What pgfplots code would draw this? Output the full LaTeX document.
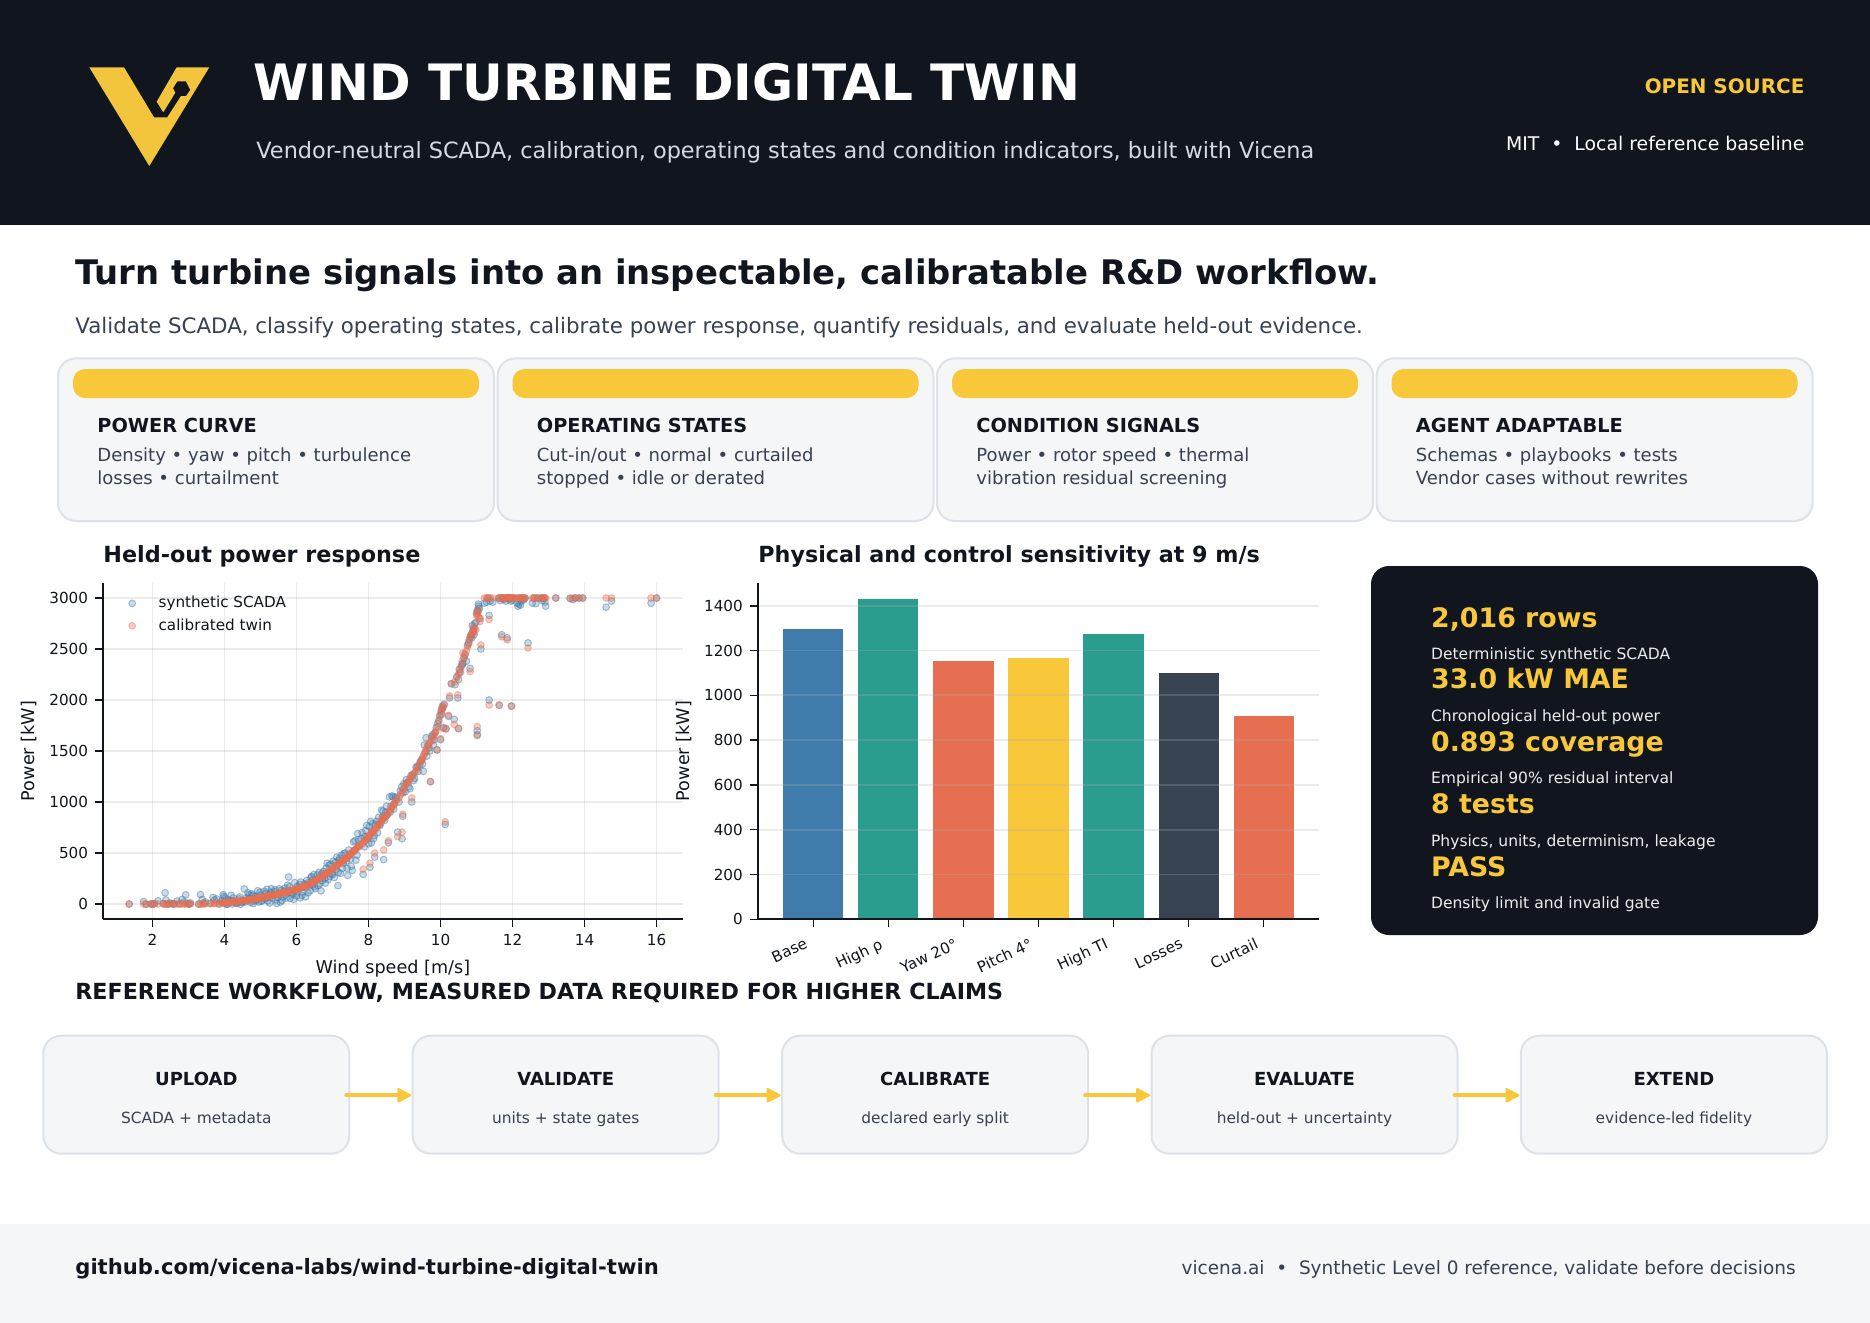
\documentclass[border=0pt]{standalone}
\usepackage{fontspec}
\usepackage{pgfplots}
\usepackage{pgfplotstable}
\pgfplotsset{compat=1.18}
\setmainfont{DejaVu Sans}
\definecolor{ink}{HTML}{11161E}
\definecolor{slate}{HTML}{374151}
\definecolor{card}{HTML}{F4F6F8}
\definecolor{edge}{HTML}{DDE2E9}
\definecolor{gold}{HTML}{F9C73A}
\definecolor{logo}{HTML}{F2C53D}
\definecolor{blue}{HTML}{3F7CAC}
\definecolor{teal}{HTML}{2A9D8F}
\definecolor{coral}{HTML}{E76F51}
\definecolor{barslate}{HTML}{394452}
\definecolor{gridc}{HTML}{B0B0B0}
\definecolor{subt}{HTML}{D5DAE1}
\newcommand\F[1]{\fontsize{#1}{#1}\selectfont}
\pgfplotstableread[row sep=\\]{
v s t\\
1.35 0 0\\ 1.75 25 0\\ 1.82 -3 0\\ 1.95 2 0\\ 2.0 -2 0\\ 2.05 5 0\\ 2.15 32 0\\ 2.3 5 0\\ 2.35 110 0\\ 2.37 40 0\\ 2.42 -3 0\\ 2.48 10 0\\
2.55 6 0\\ 2.6 0 0\\ 2.68 30 0\\ 2.75 2 0\\ 2.82 45 0\\ 2.88 20 0\\ 2.92 90 0\\ 2.98 5 0\\ 3.02 0 0\\ 3.05 12 0\\ 3.28 -2 0\\ 3.33 92 0\\
3.38 45 0\\ 3.42 8 1\\ 3.47 20 2\\ 3.6 5 4\\ 3.68 65 6\\ 3.72 40 6\\ 3.78 50 8\\ 3.85 -3 9\\ 3.92 30 11\\ 3.96 92 12\\ 3.98 75 13\\ 4.0 60 13\\
4.03 10 14\\ 4.05 -5 15\\ 4.1 45 16\\ 4.12 20 17\\ 4.18 85 19\\ 4.22 0 20\\ 4.27 30 22\\ 4.3 15 23\\ 4.35 5 25\\ 4.4 50 27\\ 4.45 -3 30\\ 4.5 25 32\\
4.55 148 34\\ 4.6 60 37\\ 4.62 35 38\\ 4.68 90 41\\ 4.72 15 43\\ 4.75 100 45\\ 4.8 5 48\\ 4.85 75 52\\ 4.88 40 54\\ 4.92 130 57\\ 4.95 20 59\\ 5.0 90 62\\
5.05 35 65\\ 5.1 125 69\\ 5.12 50 70\\ 5.18 145 75\\ 5.22 70 78\\ 5.25 10 80\\ 5.3 150 84\\ 5.35 85 88\\ 5.38 120 90\\ 5.42 40 93\\ 5.45 5 95\\ 5.5 100 100\\
5.55 20 104\\ 5.58 135 107\\ 5.62 70 110\\ 5.68 155 115\\ 5.7 90 117\\ 5.75 185 121\\ 5.78 265 124\\ 5.82 55 127\\ 5.85 130 130\\ 5.88 110 133\\ 5.92 45 137\\ 5.95 210 140\\
6.0 80 145\\ 6.02 175 147\\ 6.05 150 150\\ 6.1 60 157\\ 6.12 215 160\\ 6.18 120 168\\ 6.22 195 174\\ 6.25 70 178\\ 6.28 230 182\\ 6.32 110 188\\ 6.35 175 192\\ 6.4 260 205\\
6.42 270 208\\ 6.45 190 214\\ 6.48 290 220\\ 6.52 150 230\\ 6.55 240 235\\ 6.6 180 247\\ 6.62 310 250\\ 6.68 130 265\\ 6.72 230 274\\ 6.75 320 280\\ 6.8 205 292\\ 6.85 400 305\\
6.9 380 318\\ 6.92 270 322\\ 6.98 300 340\\ 7.02 420 352\\ 7.05 260 360\\ 7.1 340 375\\ 7.12 460 380\\ 7.15 180 388\\ 7.18 430 396\\ 7.22 300 407\\ 7.25 480 415\\ 7.28 350 420\\
7.32 495 432\\ 7.38 420 450\\ 7.42 280 462\\ 7.48 480 482\\ 7.52 370 497\\ 7.55 330 507\\ 7.6 520 525\\ 7.62 620 530\\ 7.68 480 552\\ 7.72 630 565\\ 7.85 290 340\\ 7.82 700 592\\
7.88 560 615\\ 7.92 720 628\\ 7.98 640 655\\ 8.02 760 672\\ 8.04 360 400\\ 8.08 600 695\\ 8.12 790 710\\ 8.16 670 725\\ 8.17 460 500\\ 8.22 810 748\\ 8.25 700 762\\ 8.3 780 788\\
8.36 920 805\\ 8.38 850 830\\ 8.42 436 530\\ 8.42 840 845\\ 8.48 900 860\\ 8.52 870 875\\ 8.55 600 620\\ 8.58 1050 905\\ 8.62 960 930\\ 8.65 1060 945\\ 8.7 930 975\\ 8.75 1050 1005\\
8.81 705 660\\ 8.85 1000 1040\\ 8.93 640 705\\ 8.92 1150 1090\\ 8.95 860 880\\ 8.98 1180 1130\\ 9.02 1100 1165\\ 9.08 1190 1190\\ 9.15 1130 1225\\ 9.2 1000 1040\\ 9.22 1270 1255\\ 9.28 1230 1285\\
9.32 1340 1310\\ 9.38 1300 1345\\ 9.42 1360 1385\\ 9.48 1420 1410\\ 9.52 1300 1450\\ 9.55 1560 1470\\ 9.6 1630 1510\\ 9.62 1450 1530\\ 9.68 1530 1570\\ 9.72 1200 1200\\ 9.75 1640 1600\\ 9.8 1560 1640\\
9.85 1680 1680\\ 9.9 1510 1510\\ 9.92 1770 1740\\ 9.98 1850 1840\\ 10.0 1610 1620\\ 10.02 1900 1880\\ 10.05 1940 1920\\ 10.08 1730 1720\\ 10.13 780 805\\ 10.15 1720 1715\\ 10.1 1960 1950\\ 10.25 2020 2040\\
10.22 1840 1850\\ 10.38 1810 1760\\ 10.3 2160 2160\\ 10.4 2150 2180\\ 10.5 2200 2250\\ 10.48 2020 2050\\ 10.5 1720 1720\\ 10.55 2270 2300\\ 10.6 2350 2380\\ 10.62 2360 2460\\ 10.68 2450 2440\\ 10.72 2380 2480\\
10.75 2540 2520\\ 10.82 2310 2280\\ 10.85 2640 2640\\ 10.88 2730 2660\\ 10.92 2700 2720\\ 10.95 2750 2700\\ 10.98 2760 2690\\ 11.02 2880 2860\\ 11.05 2940 2820\\ 11.08 2900 2800\\ 11.12 2500 2540\\ 11.02 1700 1740\\
11.02 1660 1650\\ 11.1 2800 2770\\ 11.35 2830 2790\\ 11.35 2000 1950\\ 11.63 1950 1950\\ 11.97 1940 1940\\ 11.7 2640 2620\\ 11.85 2610 2590\\ 12.43 2560 2510\\
11.22 2950 3000\\ 11.28 2960 3000\\ 11.32 3000 3000\\ 11.38 2970 3000\\ 11.45 2960 3000\\ 11.62 3000 3000\\ 11.65 2975 3000\\ 11.7 3000 3000\\ 11.72 3000 3000\\ 11.75 2985 3000\\ 11.8 3000 3000\\ 11.82 2970 3000\\
11.85 3000 3000\\ 11.88 3000 3000\\ 11.9 2990 3000\\ 11.92 3000 3000\\ 11.95 2970 3000\\ 11.98 3000 3000\\ 12.0 2980 3000\\ 12.05 3000 3000\\ 12.12 2950 3000\\ 12.15 2920 3000\\ 12.18 2940 3000\\ 12.2 2990 3000\\
12.22 2930 3000\\ 12.25 2970 3000\\ 12.28 3000 3000\\ 12.32 2985 3000\\ 12.35 3000 3000\\ 12.55 2950 3000\\ 12.6 3000 3000\\ 12.65 2945 3000\\ 12.7 3000 3000\\ 12.8 3000 3000\\ 12.83 2975 3000\\ 12.87 3000 3000\\
12.9 2960 3000\\ 12.92 2920 3000\\ 13.2 3000 3000\\ 13.6 2995 3000\\ 13.68 2985 3000\\ 13.75 3000 3000\\ 13.85 3000 3000\\ 13.95 3000 3000\\ 14.6 2910 3000\\ 14.75 2970 3000\\ 15.85 2950 3000\\ 16.0 3000 3000\\
4.08 -2 16\\ 4.15 35 18\\ 4.25 60 21\\ 4.33 10 24\\ 4.42 70 28\\ 4.48 15 31\\ 4.58 20 36\\ 4.65 110 39\\ 4.7 55 42\\ 4.78 85 47\\ 4.83 30 50\\ 4.9 60 56\\
4.98 115 61\\ 5.02 25 63\\ 5.08 70 67\\ 5.15 105 73\\ 5.2 30 76\\ 5.28 115 82\\ 5.32 60 86\\ 5.4 140 92\\ 5.48 65 98\\ 5.52 150 101\\ 5.6 35 108\\ 5.65 125 112\\
5.72 60 119\\ 5.8 170 125\\ 5.9 95 135\\ 5.98 120 143\\ 6.08 190 155\\ 6.15 85 164\\ 6.2 165 171\\ 6.3 205 185\\ 6.38 130 200\\ 6.44 235 211\\ 6.5 170 225\\ 6.58 285 241\\
6.65 200 257\\ 6.7 300 270\\ 6.78 250 288\\ 6.82 350 297\\ 6.88 240 312\\ 6.95 390 330\\ 7.0 290 345\\ 7.08 410 368\\ 7.16 310 391\\ 7.2 450 402\\ 7.3 400 425\\ 7.35 500 440\\
7.4 350 456\\ 7.45 530 472\\ 7.5 440 490\\ 7.58 610 518\\ 7.65 430 540\\ 7.7 690 558\\ 7.75 570 575\\ 7.8 640 585\\ 7.9 660 620\\ 7.95 770 640\\ 8.0 590 665\\ 8.06 810 685\\
8.1 720 702\\ 8.14 640 718\\ 8.2 780 740\\ 8.28 850 780\\ 8.32 770 798\\ 8.4 910 838\\ 8.45 820 852\\ 8.5 960 870\\ 8.6 900 920\\ 8.68 1050 965\\ 8.72 980 990\\ 8.78 1040 1020\\
8.88 1110 1070\\ 8.96 1090 1120\\ 9.05 1220 1180\\ 9.12 1150 1210\\ 9.18 1260 1240\\ 9.25 1210 1270\\ 9.35 1350 1330\\ 9.45 1400 1400\\ 9.5 1370 1430\\ 9.58 1490 1490\\ 9.65 1560 1550\\ 9.7 1500 1585\\
9.78 1660 1620\\ 9.82 1610 1660\\ 9.88 1730 1700\\ 9.95 1800 1790\\ 10.03 1860 1900\\ 10.06 1920 1930\\ 10.45 2230 2220\\ 10.52 2300 2270\\ 10.58 2330 2340\\ 10.65 2410 2420\\ 10.78 2560 2550\\ 10.8 2590 2590\\
10.83 2620 2620\\ 10.87 2610 2650\\ 10.9 2680 2670\\ 10.93 2640 2660\\ 11.0 2850 2830\\ 11.03 2870 2850\\ 11.06 2920 2880\\
}\scada
\pgfplotsset{base/.style={
  scale only axis, axis on top, axis x line=bottom, axis y line=left, axis line style={-, color=ink, line width=0.95pt},
  tick style={color=ink, line width=0.75pt}, major tick length=3.9pt, tick align=outside,
  /pgf/number format/assume math mode=true, /pgf/number format/1000 sep={},
  tick label style={font=\F{7.6}, color=ink},
  label style={font=\F{8.8}, color=ink},
  major grid style={color=gridc, opacity=0.25, line width=0.9pt},
},
wl/.style={legend image code/.code={\path (-4pt,0) (11pt,0); \draw[##1] plot coordinates {(0pt,0pt)};}}}
\begin{document}
\begin{tikzpicture}
\begin{scope}[x=0.5pt,y=-0.5pt]
\path[use as bounding box] (0,0) rectangle (1870,1323);
\fill[white] (0,0) rectangle (1870,1323);
\fill[ink] (0,0) rectangle (1870,225);
\fill[card] (0,1223.5) rectangle (1870,1323);
\fill[logo] (89.3,67.3)--(124,67.3)--(154,117.3)--(167.3,117.3)--(181,96)--(186,96)--(190.3,90)--(186,81.3)--(177.3,81.3)--(173,88.3)--(175.3,92.7)--(163.3,112.3)--(156.7,101.7)--(176.7,67.3)--(209.3,67.3)--(149.3,166)--cycle;
\node[anchor=base west,inner sep=0,text=white,font=\F{25.05}\bfseries] at (253,100.8) {WIND TURBINE DIGITAL TWIN};
\node[anchor=base west,inner sep=0,text=subt,font=\F{11.19}] at (256,158.4) {Vendor-neutral SCADA, calibration, operating states and condition indicators, built with Vicena};
\node[anchor=base east,inner sep=0,text=gold,font=\F{9.95}\bfseries] at (1804.8,93) {OPEN SOURCE};
\node[anchor=base east,inner sep=0,text=white,font=\F{9.43}] at (1804.8,150) {MIT\ \ •\ \ Local reference baseline};
\node[anchor=base west,inner sep=0,text=ink,font=\F{16.92}\bfseries] at (75,284.5) {Turn turbine signals into an inspectable, calibratable R\&D workflow.};
\node[anchor=base west,inner sep=0,text=slate,font=\F{10.67}] at (75,333) {Validate SCADA, classify operating states, calibrate power response, quantify residuals, and evaluate held-out evidence.};
% cards
\foreach \x/\h/\a/\b in {58/POWER CURVE/Density • yaw • pitch • turbulence/losses • curtailment,
  497.5/OPERATING STATES/Cut-in\slash out • normal • curtailed/stopped • idle or derated,
  937/CONDITION SIGNALS/Power • rotor speed • thermal/vibration residual screening,
  1376.5/AGENT ADAPTABLE/Schemas • playbooks • tests/Vendor cases without rewrites}{
  \filldraw[fill=card,draw=edge,line width=1pt,rounded corners=9pt] (\x,358.3) rectangle ({\x+436},521);
  \fill[gold,rounded corners=6pt] ({\x+15},369) rectangle ({\x+421},398);
  \node[anchor=base west,inner sep=0,text=ink,font=\F{9.65}\bfseries] at ({\x+39},432.3) {\h};
  \node[anchor=base west,inner sep=0,text=slate,font=\F{9.02}] at ({\x+39},461.5) {\a};
  \node[anchor=base west,inner sep=0,text=slate,font=\F{9.02}] at ({\x+39},484) {\b};
}
\node[anchor=base west,inner sep=0,text=ink,font=\F{11.15}\bfseries] at (103,562.5) {Held-out power response};
\node[anchor=base west,inner sep=0,text=ink,font=\F{11.12}\bfseries] at (758,562.5) {Physical and control sensitivity at 9 m/s};
% panel
\fill[ink,rounded corners=9pt] (1371,566) rectangle (1818,935);
\foreach \y/\t in {627.5/{2,016 rows},688.5/{33.0 kW MAE},751.8/{0.893 coverage},813.8/{8 tests},876.2/{PASS}}
  \node[anchor=base west,inner sep=0,text=gold,font=\F{13.4}\bfseries] at (1430.7,\y) {\t};
\foreach \y/\t in {659.3/{Deterministic synthetic SCADA},721.3/{Chronological held-out power},783.3/{Empirical 90\% residual interval},846.3/{Physics, units, determinism, leakage},908.3/{Density limit and invalid gate}}
  \node[anchor=base west,inner sep=0,text=white!92!ink,font=\F{7.77}] at (1430.7,\y) {\t};
% workflow
\node[anchor=base west,inner sep=0,text=ink,font=\F{11.1}\bfseries] at (75,999) {REFERENCE WORKFLOW, MEASURED DATA REQUIRED FOR HIGHER CLAIMS};
\foreach \x/\h/\a in {43.3/UPLOAD/SCADA + metadata,412.7/VALIDATE/units + state gates,782.1/CALIBRATE/declared early split,1151.5/EVALUATE/held-out + uncertainty,1520.9/EXTEND/evidence-led fidelity}{
  \filldraw[fill=card,draw=edge,line width=1pt,rounded corners=9pt] (\x,1035.7) rectangle ({\x+306},1153.7);
  \node[anchor=base,inner sep=0,text=ink,font=\F{9}\bfseries] at ({\x+153},1085) {\h};
  \node[anchor=base,inner sep=0,text=slate,font=\F{7.7}] at ({\x+153},1123) {\a};
}
\foreach \x in {343.3,712.7,1082.1,1451.5}{
  \draw[gold,line width=2pt,line cap=round] ({\x+3},1095.3) -- ({\x+60},1095.3);
  \filldraw[fill=gold,draw=gold,line width=1pt,line join=round] ({\x+55},1089) -- ({\x+67},1095.3) -- ({\x+55},1101.6) -- cycle;
}
% footer
\node[anchor=base west,inner sep=0,text=ink,font=\F{10.55}\bfseries] at (75,1274) {github.com/vicena-labs/wind-turbine-digital-twin};
\node[anchor=base east,inner sep=0,text=slate,font=\F{9.24}] at (1796,1274) {vicena.ai\ \ •\ \ Synthetic Level 0 reference, validate before decisions};
\end{scope}
\begin{axis}[base, at={(51.45pt,-459.65pt)}, anchor=south west, width=289.95pt, height=168.3pt,
  xmin=0.62, xmax=16.73, ymin=-150, ymax=3150, grid=major,
  xtick={2,4,...,16}, ytick={0,500,...,3000},
  xlabel={Wind speed [m/s]}, ylabel={Power [kW]},
  xlabel style={at={(axis description cs:0.5,-0.16)},anchor=base},
  ylabel style={at={(axis description cs:-0.118,0.5)},anchor=base},
  legend style={draw=none,fill=none,at={(0.025,0.985)},anchor=north west,font=\F{7.6},row sep=-0.1pt,text=ink},
  legend cell align=left,
  clip=true]
\addplot[only marks, mark=*, mark size=1.7pt, mark options={fill=blue, draw=blue, fill opacity=0.27, draw opacity=0.45, line width=0.5pt}, wl] table[x=v,y=s] {\scada};
\addlegendentry{synthetic SCADA}
\addplot[only marks, mark=*, mark size=1.7pt, mark options={fill=coral, draw=coral, fill opacity=0.35, draw opacity=0.4, line width=0.5pt}, wl] table[x=v,y=t] {\scada};
\addlegendentry{calibrated twin}
\end{axis}
\begin{axis}[base, at={(378.85pt,-459.65pt)}, anchor=south west, width=280.8pt, height=168.3pt,
  xmin=-0.74, xmax=6.74, ymin=0, ymax=1503, ymajorgrids=true,
  ybar, bar shift=0pt, bar width=30.15pt,
  xtick={0,...,6}, xticklabels={Base,High ρ,Yaw 20°,Pitch 4°,High TI,Losses,Curtail},
  xticklabel style={rotate=25,anchor=north east,yshift=0.8pt,xshift=-3pt},
  ytick={0,200,...,1400},
  ylabel={Power [kW]},
  ylabel style={at={(axis description cs:-0.122,0.5)},anchor=base}]
\addplot[fill=blue,draw=none] coordinates {(0,1297)};
\addplot[fill=teal,draw=none] coordinates {(1,1431)};
\addplot[fill=coral,draw=none] coordinates {(2,1154)};
\addplot[fill=gold,draw=none] coordinates {(3,1168)};
\addplot[fill=teal,draw=none] coordinates {(4,1275)};
\addplot[fill=barslate,draw=none] coordinates {(5,1101)};
\addplot[fill=coral,draw=none] coordinates {(6,909)};
\end{axis}
\end{tikzpicture}
\end{document}
